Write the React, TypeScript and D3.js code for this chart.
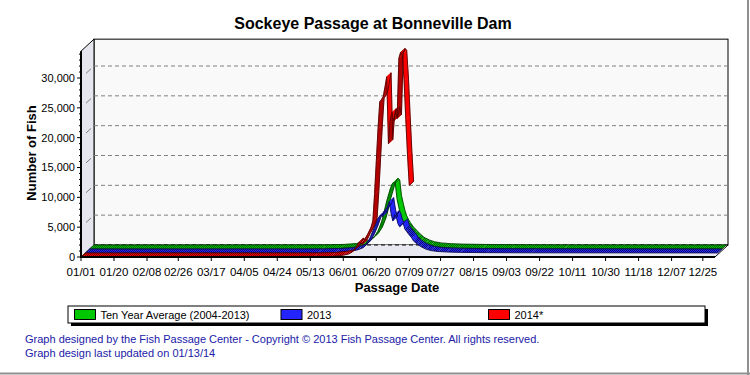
import React from "react";
import * as d3 from "d3";

// ---------- data ----------
const tickDates = ["01-01","01-20","02-08","02-26","03-17","04-05","04-24","05-13","06-01","06-20","07-09","07-27","08-15","09-03","09-22","10-11","10-30","11-18","12-07","12-25"];
const yTicks = [0, 5000, 10000, 15000, 20000, 25000, 30000];

const avgDates = ["01-01","05-15","05-25","06-01","06-04","06-07","06-10","06-12","06-14","06-16","06-18","06-19","06-20","06-21","06-22","06-23","06-24","06-25","06-26","06-27","06-28","06-29","06-30","07-01","07-02","07-04","07-06","07-08","07-10","07-13","07-16","07-20","07-25","08-01","08-15","09-01","10-01","12-31"];
const avgValues = [0,30,100,250,400,650,1000,1500,2100,3000,4500,5500,6800,8000,9000,10000,10800,11200,10900,8300,7000,5800,4900,4300,3800,3000,2400,1800,1300,850,550,350,230,150,90,50,20,10];

const y2013Dates = ["01-01","05-15","05-25","06-01","06-04","06-07","06-10","06-12","06-14","06-16","06-18","06-20","06-21","06-22","06-23","06-24","06-25","06-26","06-27","06-28","06-29","06-30","07-01","07-02","07-03","07-04","07-05","07-06","07-08","07-09","07-11","07-13","07-16","07-19","07-23","07-28","08-05","08-20","09-15","12-31"];
const y2013Values = [0,20,80,200,350,550,900,1500,2600,4000,5600,6400,6100,7000,7300,7800,8600,6700,5400,6400,6100,4900,4400,4800,5000,4000,3600,3200,2500,2000,1500,1100,650,400,250,170,100,60,30,10];

const y2014Dates = ["01-01","05-15","05-25","06-01","06-04","06-06","06-08","06-10","06-11","06-12","06-13","06-14","06-15","06-16","06-17","06-18","06-19","06-20","06-21","06-22","06-23","06-24","06-25","06-26","06-27","06-28","06-29","06-30","07-01","07-02","07-03","07-04","07-05","07-06","07-07","07-08","07-09"];
const y2014Values = [0,20,100,300,500,800,1400,2500,2300,2100,2700,3300,3800,4400,5000,6000,10500,16000,21500,26000,26400,26900,28500,30200,19000,23000,24200,22800,24500,23200,33300,34300,34000,29500,23000,17000,12000];

const seriesNames = ["Ten Year Average (2004-2013)", "2013", "2014*"];
const seriesColors = ["#00c800", "#2424ff", "#ff0000"];

// ---------- geometry ----------
const X0 = 81, X1 = 715, Y0 = 257;
const DX = 13, DY = -12;
const parse = (s: string) => d3.timeParse("%Y-%m-%d")("2014-" + s) as Date;
const x = d3.scaleTime().domain([new Date(2014, 0, 1), new Date(2015, 0, 1)]).range([X0, X1]);
const y = d3.scaleLinear().domain([0, 34500]).range([Y0, Y0 - (34500 * 179) / 30000]);
const fmt = d3.timeFormat("%m/%d");
const numFmt = d3.format(",");

type Pt = [number, number];

function Ribbon({ dates, values, color, z0, z1, pid }: { dates: string[]; values: number[]; color: string; z0: number; z1: number; pid: string }) {
  const pts: Pt[] = dates.map((d, i) => [x(parse(d)), y(values[i])]);
  const o0: Pt = [z0 * DX, z0 * DY];
  const o1: Pt = [z1 * DX, z1 * DY];
  const under = d3.color(color)!.darker(1).formatHex();
  const edge = d3.color(color)!.darker(3).formatHex();
  const faces: JSX.Element[] = [];
  for (let i = 0; i < pts.length - 1; i++) {
    const a = pts[i], b = pts[i + 1];
    const sx = b[0] - a[0], sy = b[1] - a[1];
    const cross = sx * DY - sy * DX;
    let fill: string;
    let stroke = "none";
    if (cross > 0) { fill = under; stroke = under; }
    else if (sy > 1.6 * sx) { fill = color; stroke = color; }
    else fill = `url(#${pid})`;
    const poly = [
      [a[0] + o0[0], a[1] + o0[1]],
      [b[0] + o0[0], b[1] + o0[1]],
      [b[0] + o1[0], b[1] + o1[1]],
      [a[0] + o1[0], a[1] + o1[1]],
    ];
    faces.push(<polygon key={i} points={poly.map((p) => p.join(",")).join(" ")} fill={fill} stroke={stroke} strokeWidth={0.4} />);
  }
  const line = d3.line<Pt>();
  const front = line(pts.map((p) => [p[0] + o0[0], p[1] + o0[1]] as Pt))!;
  const back = line(pts.map((p) => [p[0] + o1[0], p[1] + o1[1]] as Pt))!;
  const first = pts[0], last = pts[pts.length - 1];
  return (
    <g>
      {faces}
      <path d={front} fill="none" stroke={edge} strokeWidth={0.9} />
      <path d={back} fill="none" stroke={edge} strokeWidth={0.9} />
      <line x1={first[0] + o0[0]} y1={first[1] + o0[1]} x2={first[0] + o1[0]} y2={first[1] + o1[1]} stroke={edge} strokeWidth={0.9} />
      <line x1={last[0] + o0[0]} y1={last[1] + o0[1]} x2={last[0] + o1[0]} y2={last[1] + o1[1]} stroke={edge} strokeWidth={0.9} />
    </g>
  );
}

export default function App() {
  const font = "'Liberation Sans', Arial, sans-serif";
  const yTop = y.range()[1];
  const series = [
    { dates: avgDates, values: avgValues, z0: 2 / 3, z1: 1 },
    { dates: y2013Dates, values: y2013Values, z0: 1 / 3, z1: 2 / 3 },
    { dates: y2014Dates, values: y2014Values, z0: 0, z1: 1 / 3 },
  ];
  const legendX = [74.5, 281, 488.5];
  return (
    <div style={{ position: "absolute", left: 0, top: 0 }}>
      <svg width={750} height={375} style={{ display: "block", background: "#ffffff" }} fontFamily={font}>
        <defs>
          {seriesColors.map((c, i) => (
            <pattern key={i} id={`pat${i}`} width={2} height={2} patternUnits="userSpaceOnUse">
              <rect width={2} height={2} fill={c} />
              <rect x={0} y={0} width={1} height={1} fill={d3.color(c)!.darker(2.2).formatHex()} />
              <rect x={1} y={1} width={1} height={1} fill={d3.color(c)!.darker(2.2).formatHex()} />
            </pattern>
          ))}
        </defs>

        {/* title */}
        <text x={373} y={29} textAnchor="middle" fontSize={16} fontWeight="bold">Sockeye Passage at Bonneville Dam</text>

        {/* back wall */}
        <rect x={X0 + DX} y={yTop + DY} width={X1 - X0} height={Y0 - yTop} fill="#f9f9f9" stroke="#000" strokeWidth={1} />
        {/* left wall */}
        <polygon points={`${X0},${yTop} ${X0 + DX},${yTop + DY} ${X0 + DX},${Y0 + DY} ${X0},${Y0}`} fill="#e6e6ee" stroke="#000" strokeWidth={1} />
        {/* gridlines */}
        {yTicks.filter((v) => v > 0).map((v) => (
          <g key={v}>
            <line x1={X0 + DX} x2={X1 + DX} y1={y(v) + DY} y2={y(v) + DY} stroke="#808080" strokeDasharray="4,3" />
            <line x1={X0 + 5} y1={y(v) + (5 * DY) / DX} x2={X0 + 10} y2={y(v) + (10 * DY) / DX} stroke="#808080" />
          </g>
        ))}
        {/* floor */}
        <polygon points={`${X0},${Y0} ${X1},${Y0} ${X1 + DX},${Y0 + DY} ${X0 + DX},${Y0 + DY}`} fill="#e8e8f0" stroke="none" />
        <line x1={X0 + DX} x2={X1 + DX} y1={Y0 + DY} y2={Y0 + DY} stroke="#000" strokeDasharray="4,3" strokeWidth={1} />
        <line x1={X1} y1={Y0} x2={X1 + DX} y2={Y0 + DY} stroke="#000" strokeWidth={1} />

        {/* ribbons back to front */}
        {series.map((s, i) => (
          <Ribbon key={i} dates={s.dates} values={s.values} color={seriesColors[i]} z0={s.z0} z1={s.z1} pid={`pat${i}`} />
        ))}

        {/* axes */}
        <line x1={X0} x2={X0} y1={yTop} y2={Y0 + 1} stroke="#000" strokeWidth={2} />
        <line x1={X0} x2={X1} y1={Y0} y2={Y0} stroke="#000" strokeWidth={2} />
        {yTicks.map((v) => (
          <g key={v}>
            <line x1={X0 - 4} x2={X0} y1={y(v)} y2={y(v)} stroke="#000" />
            <text x={X0 - 6} y={y(v)} dy="0.35em" textAnchor="end" fontSize={11}>{numFmt(v)}</text>
          </g>
        ))}
        {d3.range(1000, 34001, 1000).filter((v) => v % 5000 !== 0).map((v) => (
          <line key={v} x1={X0 - 2} x2={X0} y1={y(v)} y2={y(v)} stroke="#000" />
        ))}
        {tickDates.map((t) => {
          const tx = x(parse(t));
          return (
            <g key={t}>
              <line x1={tx} x2={tx} y1={Y0} y2={Y0 + 4} stroke="#000" />
              <text x={tx} y={276} textAnchor="middle" fontSize={11.5}>{fmt(parse(t))}</text>
            </g>
          );
        })}
        <text x={397} y={292} textAnchor="middle" fontSize={13} fontWeight="bold">Passage Date</text>
        <text transform="translate(36,153) rotate(-90)" textAnchor="middle" fontSize={13} fontWeight="bold">Number of Fish</text>

        {/* legend */}
        <rect x={71} y={309} width={637} height={17} fill="#000" />
        <rect x={68} y={306} width={637} height={17} fill="#fff" stroke="#000" strokeWidth={1} />
        {seriesNames.map((n, i) => (
          <g key={n}>
            <rect x={legendX[i]} y={309.5} width={21} height={10} fill={seriesColors[i]} stroke="#000" strokeWidth={1} />
            <text x={legendX[i] + 26} y={318.5} fontSize={11}>{n}</text>
          </g>
        ))}

        {/* footer */}
        <text x={25} y={343} fontSize={11} fill="#2020a8">Graph designed by the Fish Passage Center - Copyright © 2013 Fish Passage Center. All rights reserved.</text>
        <text x={25} y={357} fontSize={11} fill="#2020a8">Graph design last updated on 01/13/14</text>

        {/* frame */}
        <line x1={748} x2={748} y1={0} y2={375} stroke="#909090" strokeWidth={2} />
        <line x1={0} x2={750} y1={373.5} y2={373.5} stroke="#909090" strokeWidth={2} />
      </svg>
    </div>
  );
}
